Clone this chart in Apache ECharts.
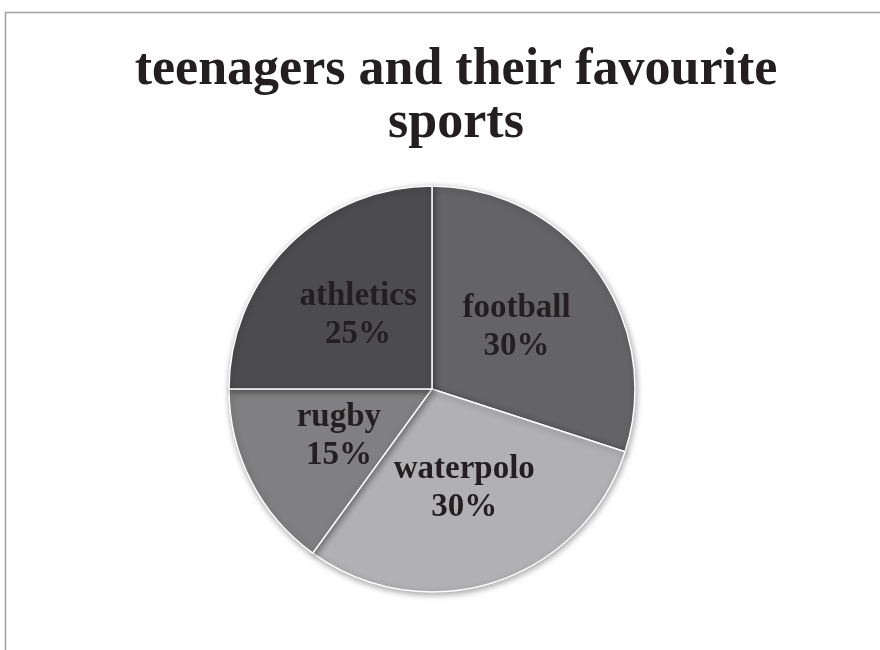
<!DOCTYPE html>
<html>
<head>
<meta charset="utf-8">
<script src="https://cdn.jsdelivr.net/npm/echarts@6/dist/echarts.min.js"></script>
<style>
  html, body { margin: 0; padding: 0; background: #fff; }
  #chart { width: 880px; height: 650px; }
</style>
</head>
<body>
<div id="chart"></div>
<script>
// Share of teenagers by favourite sport (percent)
const sports = ['football', 'waterpolo', 'rugby', 'athletics'];
const shares = [30, 30, 15, 25];
const sliceColors = ['#646466', '#b1b1b3', '#808082', '#4c4c4e'];

const chart = echarts.init(document.getElementById('chart'), null, { renderer: 'canvas' });

const serif = '"Liberation Serif", "DejaVu Serif", serif';

chart.setOption({
  backgroundColor: '#ffffff',
  animation: false,
  title: {
    text: 'teenagers and their favourite\nsports',
    left: 451,
    textAlign: 'center',
    top: 39,
    textStyle: {
      fontFamily: serif,
      fontWeight: 'bold',
      fontSize: 52,
      lineHeight: 53,
      color: '#231f20'
    }
  },
  graphic: [{
    type: 'polyline',
    shape: { points: [[5.5, 660], [5.5, 12.5], [890, 12.5]] },
    style: { stroke: '#a0a0a0', lineWidth: 1.5, fill: null },
    silent: true
  }],
  series: [{
    type: 'pie',
    center: [432, 389],
    radius: 203,
    startAngle: 90,
    clockwise: true,
    avoidLabelOverlap: false,
    data: sports.map((name, i) => ({
      name: name,
      value: shares[i],
      itemStyle: { color: sliceColors[i] }
    })),
    itemStyle: {
      borderColor: '#ffffff',
      borderWidth: 1.5,
      shadowBlur: 6,
      shadowOffsetX: 1,
      shadowOffsetY: 2,
      shadowColor: 'rgba(0,0,0,0.35)'
    },
    label: {
      show: true,
      position: 'inside',
      formatter: p => p.name + '\n' + p.value + '%',
      fontFamily: serif,
      fontWeight: 'bold',
      fontSize: 33,
      lineHeight: 38,
      color: '#231f20'
    },
    labelLine: { show: false },
    emphasis: { disabled: true }
  }]
});
</script>
</body>
</html>
